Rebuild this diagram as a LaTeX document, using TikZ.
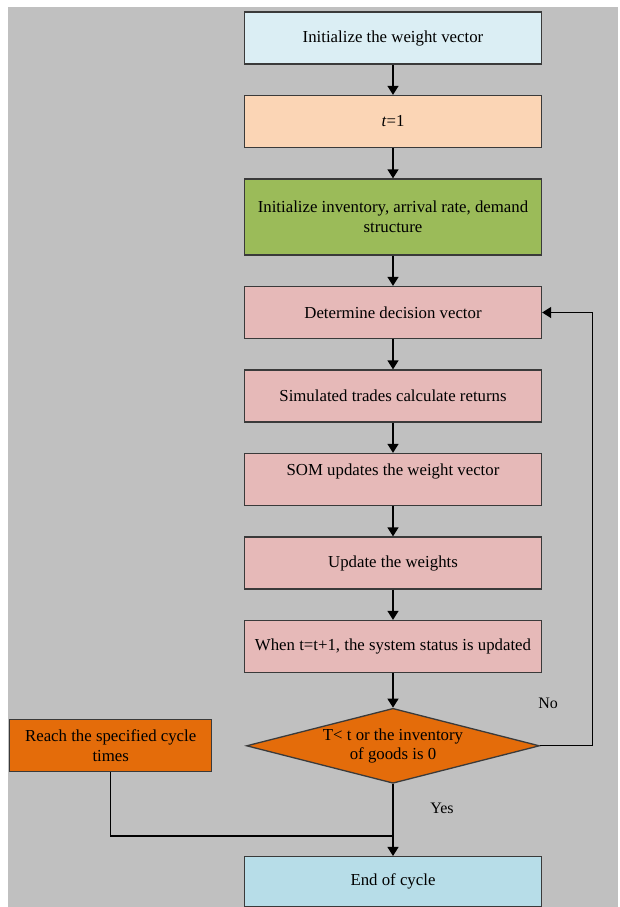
\documentclass[tikz,border=0pt]{standalone}
\usepackage{fontspec}
\setmainfont{Liberation Serif}
\usetikzlibrary{shapes.geometric,arrows.meta,positioning,calc}
\definecolor{BgGray}{HTML}{C0C0C0}
\definecolor{EdgeGray}{HTML}{3A3A3A}
\definecolor{SoftIce}{HTML}{DBEEF4}
\definecolor{SoftPeach}{HTML}{FBD5B5}
\definecolor{OliveGreen}{HTML}{9BBB59}
\definecolor{SoftRose}{HTML}{E6B9B8}
\definecolor{DeepOrange}{HTML}{E46C0A}
\definecolor{SoftSky}{HTML}{B7DDE8}
\tikzset{
  FB/.style={rectangle,minimum width=297pt,minimum height=52pt,
             inner sep=2pt,align=center,draw=EdgeGray,line width=1.3pt,
             font=\fontsize{16.8pt}{19.5pt}\selectfont},
  DM/.style={diamond,aspect=3.9,inner sep=0pt,
             minimum width=293pt,minimum height=75pt,
             align=center,draw=EdgeGray,line width=1.3pt,
             font=\fontsize{16.8pt}{19.5pt}\selectfont},
  arr/.style={-{Triangle[length=9pt,width=11pt]},line width=1.3pt,black},
  ln/.style={line width=1.3pt,black},
  nI/.style={FB,fill=SoftIce},
  nP/.style={FB,fill=SoftPeach},
  nG/.style={FB,fill=OliveGreen},
  nR/.style={FB,fill=SoftRose},
  nO/.style={FB,fill=DeepOrange},
  nS/.style={FB,fill=SoftSky},
  dO/.style={DM,fill=DeepOrange},
  LB/.style={font=\fontsize{16pt}{19pt}\selectfont}
}
\begin{document}
\begin{tikzpicture}[node distance=30.2pt]
  \useasboundingbox (0,0) rectangle (620pt,-907pt);
  \fill[BgGray] (8pt,-7pt) rectangle (618pt,-907pt);

  \node[nI] (init) at (393pt,-38pt) {Initialize the weight vector};
  \node[nP,below=of init] (tone) {\textit{t}=1};
  \node[nG,minimum height=76pt,below=of tone] (env) {Initialize inventory, arrival rate, demand\\structure};
  \node[nR,below=of env] (det) {Determine decision vector};
  \node[nR,below=of det] (sim) {Simulated trades calculate returns};
  \node[nR,below=of sim] (som) {SOM updates the weight vector\\ ~};
  \node[nR,below=of som] (upd) {Update the weights};
  \node[nR,below=of upd] (stat) {When t=t+1, the system status is updated};
  \node[dO,below=34.5pt of stat] (dec) {T< t or the inventory\\of goods is 0};
  \node[nO,minimum width=202pt,left=33.5pt of dec] (reach) {Reach the specified cycle\\times};
  \node[nS,minimum height=50pt,below=72pt of dec] (fin) {End of cycle};

  \draw[arr](init)--(tone);
  \draw[arr](tone)--(env);
  \draw[arr](env)--(det);
  \draw[arr](det)--(sim);
  \draw[arr](sim)--(som);
  \draw[arr](som)--(upd);
  \draw[arr](upd)--(stat);
  \draw[arr](stat)--(dec);
  \draw[arr](dec)--(fin);
  \draw[arr](dec.east)--++(52pt,0)|-(det.east);

  \coordinate (mrg) at ($(fin.north)+(0,20pt)$);
  \draw[ln](reach.south)|-(mrg);

  \node[LB] (no) at ($(dec.east)+(8pt,42pt)$) {No};
  \node[LB] (yes) at ($(dec.south)+(49pt,-24pt)$) {Yes};
\end{tikzpicture}
\end{document}
